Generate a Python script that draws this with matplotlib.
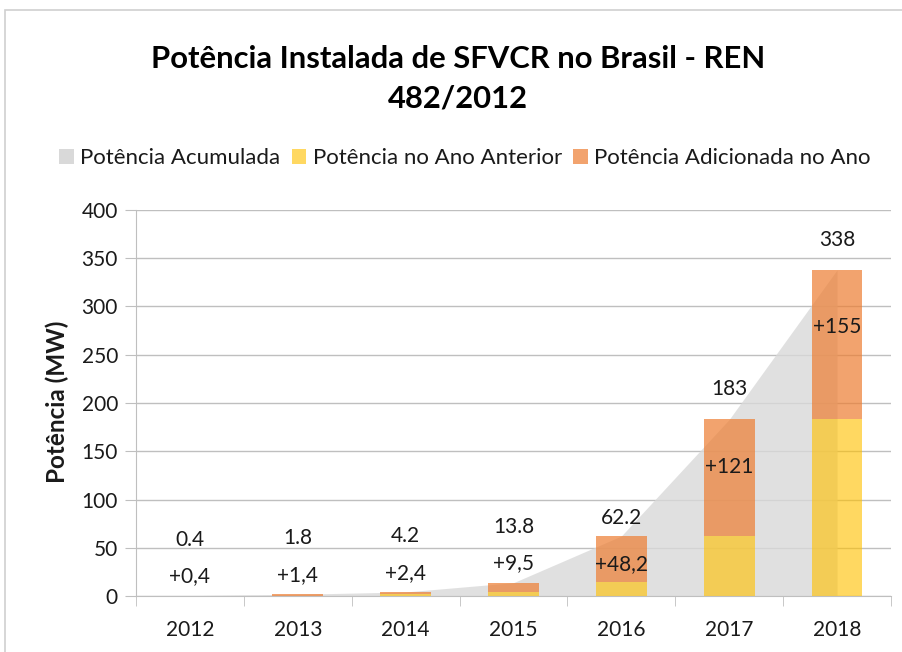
import matplotlib
matplotlib.use("Agg")
import matplotlib.pyplot as plt
from matplotlib.patches import Rectangle, Patch
import numpy as np

# ---- data ----
years = ["2012", "2013", "2014", "2015", "2016", "2017", "2018"]
accumulated = [0.4, 1.8, 4.2, 13.8, 62.2, 183, 338]
previous_year = [0.0, 0.4, 1.8, 4.3, 14.0, 62.2, 183]
added = [0.4, 1.4, 2.4, 9.5, 48.2, 121, 155]
total_labels = ["0.4", "1.8", "4.2", "13.8", "62.2", "183", "338"]
added_labels = ["+0,4", "+1,4", "+2,4", "+9,5", "+48,2", "+121", "+155"]

title = "Potência Instalada de SFVCR no Brasil - REN\n482/2012"
ylabel = "Potência (MW)"
legend_names = ["Potência Acumulada", "Potência no Ano Anterior", "Potência Adicionada no Ano"]

plt.rcParams['font.family'] = ['Lato', 'DejaVu Sans']

C_AREA = "#D9D9D9"
C_YEL = "#FFC000"
C_ORG = "#ED7D31"
TXT = "#1a1a1a"
FS = 15

fig = plt.figure(figsize=(9.02, 6.52), dpi=100)
# outer chart frame
fig.patches.append(Rectangle((5 / 902, -0.05), 1.1, 1 - 10 / 652 + 0.05, transform=fig.transFigure,
                             fill=False, edgecolor="#d0d0d0", linewidth=1.2))

ax = fig.add_axes([136 / 902, 1 - 596 / 652, (891 - 136) / 902, (596 - 210) / 652])
x = np.arange(len(years))

ax.fill_between(x, 0, accumulated, color=C_AREA, alpha=0.8, linewidth=0, zorder=2)
w = 0.47
ax.bar(x, previous_year, width=w, color=C_YEL, alpha=0.62, linewidth=0, zorder=3)
ax.bar(x, added, width=w, bottom=previous_year, color=C_ORG, alpha=0.7, linewidth=0, zorder=3)

ax.set_xlim(-0.5, len(years) - 0.5)
ax.set_ylim(0, 400)
ax.set_yticks(np.arange(0, 401, 50))
ax.yaxis.grid(True, color="#bfbfbf", linewidth=1.0, zorder=0)
ax.set_axisbelow(True)
for s in ["top", "right"]:
    ax.spines[s].set_visible(False)
ax.spines["left"].set_color("#bfbfbf")
ax.spines["bottom"].set_color("#bfbfbf")
ax.tick_params(axis="y", length=8, color="#bfbfbf", labelsize=FS, labelcolor=TXT, pad=5)
ax.set_xticks(x)
ax.set_xticklabels(years)
ax.tick_params(axis="x", length=0, labelsize=FS, labelcolor=TXT, pad=17)
ax.set_xticks(np.arange(-0.5, len(years) + 0.5, 1), minor=True)
ax.tick_params(axis="x", which="minor", length=7, color="#bfbfbf")

ax.set_ylabel(ylabel, fontsize=17.5, fontweight="bold", color=TXT)
ax.yaxis.set_label_coords((69 - 136) / 755, (596 - 402) / 386)

# data labels
for i in range(len(years)):
    tot = accumulated[i]
    if tot < 20:
        ty = tot + 58
    elif tot < 100:
        ty = tot + 19
    else:
        ty = tot + 31
    ax.text(x[i], ty, total_labels[i], ha="center", va="center", fontsize=FS, color=TXT, zorder=5)
    if added[i] < 20:
        ay = tot + 20
    else:
        ay = previous_year[i] + 0.72 * added[i] - 16
    ax.text(x[i], ay, added_labels[i], ha="center", va="center", fontsize=FS, color=TXT, zorder=5)

fig.text(0.508, 1 - 79 / 652, title, ha="center", va="center", fontsize=22.3, fontweight="bold",
         color="black", linespacing=1.5)

handles = [Patch(facecolor=C_AREA), Patch(facecolor=C_YEL, alpha=0.62), Patch(facecolor=C_ORG, alpha=0.7)]
fig.legend(handles, legend_names, loc="center", bbox_to_anchor=(465 / 902, 1 - 158 / 652), ncol=3,
           frameon=False, fontsize=16, handlelength=0.65, handleheight=0.65, handletextpad=0.3,
           columnspacing=0.5, labelcolor=TXT)

fig.savefig("out.png", dpi=100)
